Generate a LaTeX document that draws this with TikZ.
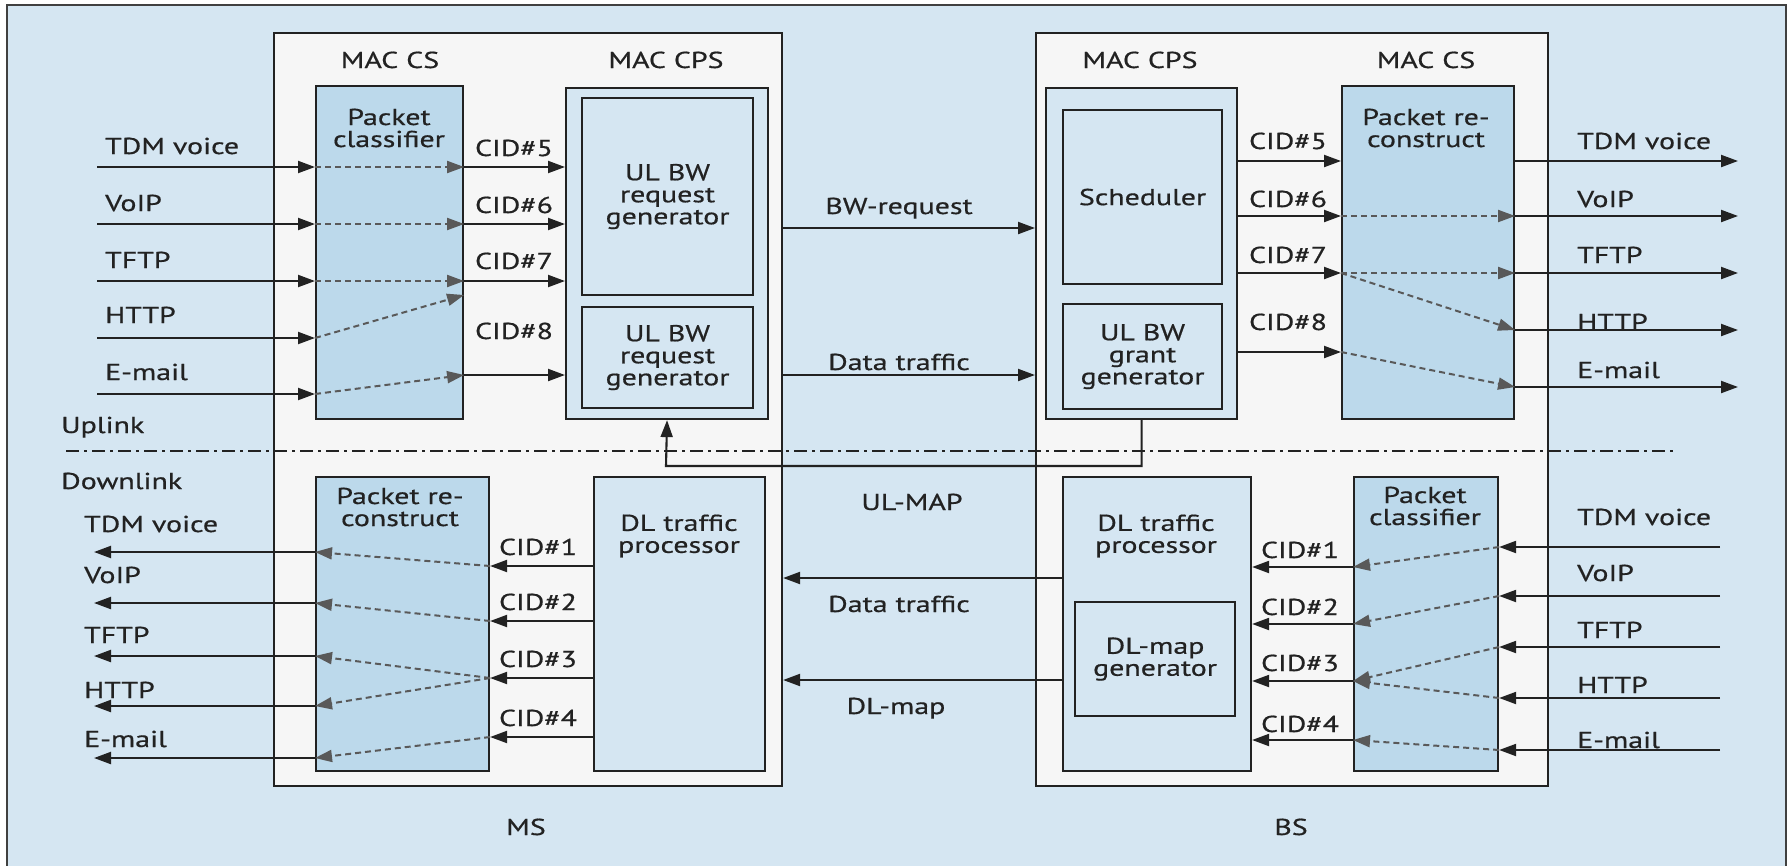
\documentclass[tikz,border=0pt]{standalone}
\usepackage{fontspec}
\setmainfont{PT Sans}[FakeStretch=1.3,FakeBold=0.6]
\usetikzlibrary{arrows.meta}
\definecolor{bgblue}{HTML}{D5E6F2}
\definecolor{boxgray}{HTML}{F6F6F6}
\definecolor{clsblue}{HTML}{BCD9EB}
\definecolor{inkc}{HTML}{222222}
\begin{document}
\begin{tikzpicture}[x=1pt,y=-1pt,
  every node/.style={font=\fontsize{23}{22}\selectfont, inner sep=0pt, text=inkc},
  box/.style={draw=inkc, line width=2.1pt, anchor=north west, inner sep=0pt},
  outerbox/.style={box, fill=boxgray},
  bluebox/.style={box, fill=bgblue},
  clsbox/.style={box, fill=clsblue},
  boxtext/.style={align=center},
  lbl/.style={anchor=base},
  lblw/.style={anchor=base west},
  arr/.style={draw=inkc, line width=2.1pt, -{Triangle[length=17pt,width=12pt]}},
  darr/.style={draw=black!65, line width=2pt, dash pattern=on 6pt off 4pt, -{Triangle[length=17pt,width=12pt]}},
  dashdot/.style={draw=inkc, line width=1.8pt, dash pattern=on 13pt off 5pt on 3pt off 5pt}]
\useasboundingbox (0,0) rectangle (1788,865);
% background frame
\fill[bgblue] (7,5) rectangle (1786,880);
\draw[black!75, line width=2.5pt] (7,880) -- (7,5) -- (1786,5) -- (1786,880);

% MS and BS containers
\node[outerbox, minimum width=508pt, minimum height=753pt] (ms) at (273,32) {};
\node[outerbox, minimum width=512pt, minimum height=753pt] (bs) at (1035,32) {};

% uplink / downlink separator
\coordinate (dd1) at (66,451);
\coordinate (dd2) at (1677,451);
\draw[dashdot] (dd1) -- (dd2);

% ---------- MS uplink ----------
\node[clsbox, minimum width=147pt, minimum height=333pt] (pcU) at (315,85) {};
\node[bluebox, minimum width=202pt, minimum height=331pt] (cpsU) at (565,87) {};
\node[bluebox, minimum width=171pt, minimum height=197pt] (reqA) at (581,97) {};
\node[bluebox, minimum width=171pt, minimum height=101pt] (reqB) at (581,306) {};
\node[boxtext] (pcUt) at (389,128) {Packet\\classifier};
\node[boxtext] (reqAt) at (reqA.center) {UL BW\\request\\generator};
\node[boxtext] (reqBt) at (reqB.center) {UL BW\\request\\generator};
\node[lbl] (macCSm) at (390,68) {MAC CS};
\node[lbl] (macCPSm) at (666,68) {MAC CPS};

\coordinate (mu1) at (97,167);
\coordinate (mu2) at (97,224);
\coordinate (mu3) at (97,281);
\coordinate (mu4) at (97,338);
\coordinate (mu5) at (97,394);
\coordinate (mc4) at (0,295);
\coordinate (mc5) at (0,375);
\foreach \n in {1,...,5} {\draw[arr] (mu\n) -- (pcU.west |- mu\n);}
\foreach \n in {1,2,3} {
  \draw[darr] (pcU.west |- mu\n) -- (pcU.east |- mu\n);
  \draw[arr] (pcU.east |- mu\n) -- (cpsU.west |- mu\n);}
\draw[darr] (pcU.west |- mu4) -- (pcU.east |- mc4);
\draw[darr] (pcU.west |- mu5) -- (pcU.east |- mc5);
\draw[arr] (pcU.east |- mc5) -- (cpsU.west |- mc5);

\node[lblw] (iTDMm) at (105,154) {TDM voice};
\node[lblw] (iVoIPm) at (105,211) {VoIP};
\node[lblw] (iTFTPm) at (105,268) {TFTP};
\node[lblw] (iHTTPm) at (105,323) {HTTP};
\node[lblw] (iMailm) at (105,380) {E-mail};
\node[lbl] (cid5m) at (514,156) {CID\#5};
\node[lbl] (cid6m) at (514,213) {CID\#6};
\node[lbl] (cid7m) at (514,269) {CID\#7};
\node[lbl] (cid8m) at (514,339) {CID\#8};

% ---------- BS uplink ----------
\node[bluebox, minimum width=191pt, minimum height=331pt] (cpsB) at (1045,87) {};
\node[bluebox, minimum width=159pt, minimum height=174pt] (sched) at (1062,109) {};
\node[bluebox, minimum width=159pt, minimum height=105pt] (grant) at (1062,303) {};
\node[clsbox, minimum width=172pt, minimum height=333pt] (prB) at (1341,85) {};
\node[boxtext] (schedt) at (sched.center) {Scheduler};
\node[boxtext] (grantt) at (grant.center) {UL BW\\grant\\generator};
\node[boxtext] (prBt) at (1426,128) {Packet re-\\construct};
\node[lbl] (macCPSb) at (1140,68) {MAC CPS};
\node[lbl] (macCSb) at (1426,68) {MAC CS};

\coordinate (bu1) at (1738,161);
\coordinate (bu2) at (1738,216);
\coordinate (bu3) at (1738,273);
\coordinate (bo4) at (1738,330);
\coordinate (bo5) at (1738,387);
\coordinate (bc4) at (0,352);
\foreach \c in {bu1,bu2,bu3,bc4} {\draw[arr] (cpsB.east |- \c) -- (prB.west |- \c);}
\draw[arr] (prB.east |- bu1) -- (bu1);
\foreach \c in {bu2,bu3} {
  \draw[darr] (prB.west |- \c) -- (prB.east |- \c);
  \draw[arr] (prB.east |- \c) -- (\c);}
\draw[darr] (prB.west |- bu3) -- (prB.east |- bo4);
\draw[arr] (prB.east |- bo4) -- (bo4);
\draw[darr] (prB.west |- bc4) -- (prB.east |- bo5);
\draw[arr] (prB.east |- bo5) -- (bo5);

\node[lbl] (cid5b) at (1288,149) {CID\#5};
\node[lbl] (cid6b) at (1288,207) {CID\#6};
\node[lbl] (cid7b) at (1288,263) {CID\#7};
\node[lbl] (cid8b) at (1288,330) {CID\#8};
\node[lblw] (oTDMb) at (1577,149) {TDM voice};
\node[lblw] (oVoIPb) at (1577,207) {VoIP};
\node[lblw] (oTFTPb) at (1577,263) {TFTP};
\node[lblw] (oHTTPb) at (1577,330) {HTTP};
\node[lblw] (oMailb) at (1577,378) {E-mail};

% ---------- air interface ----------
\coordinate (bwr) at (0,228);
\coordinate (dtu) at (0,375);
\coordinate (dtd) at (0,578);
\coordinate (dlm) at (0,680);
\coordinate (ulm) at (666,466);
\draw[arr] (ms.east |- bwr) -- (bs.west |- bwr);
\draw[arr] (ms.east |- dtu) -- (bs.west |- dtu);
\draw[arr] (cpsB.south) |- (ulm) -- (cpsU.south);
\node[lbl] (bwrt) at (899,214) {BW-request};
\node[lbl] (dtut) at (899,370) {Data traffic};
\node[lbl] (ulmt) at (912,510) {UL-MAP};
\node[lbl] (dtdt) at (899,612) {Data traffic};
\node[lbl] (dlmt) at (896,714) {DL-map};
\node[lblw] (uplk) at (61,433) {Uplink};
\node[lblw] (dnlk) at (61,489) {Downlink};
\node[lbl] (mst) at (526,835) {MS};
\node[lbl] (bst) at (1291,835) {BS};

% ---------- MS downlink ----------
\node[clsbox, minimum width=173pt, minimum height=294pt] (prM) at (315,476) {};
\node[bluebox, minimum width=171pt, minimum height=294pt] (dlpM) at (593,476) {};
\node[boxtext] (prMt) at (400,507) {Packet re-\\construct};
\node[boxtext] (dlpMt) at (679,536) {DL traffic\\processor};

\coordinate (md1) at (0,566);
\coordinate (md2) at (0,621);
\coordinate (md3) at (0,678);
\coordinate (md4) at (0,737);
\coordinate (mo1) at (94,552);
\coordinate (mo2) at (94,603);
\coordinate (mo3) at (94,656);
\coordinate (mo4) at (94,706);
\coordinate (mo5) at (94,758);
\foreach \n in {1,...,4} {\draw[arr] (dlpM.west |- md\n) -- (prM.east |- md\n);}
\draw[darr] (prM.east |- md1) -- (prM.west |- mo1);
\draw[darr] (prM.east |- md2) -- (prM.west |- mo2);
\draw[darr] (prM.east |- md3) -- (prM.west |- mo3);
\draw[darr] (prM.east |- md3) -- (prM.west |- mo4);
\draw[darr] (prM.east |- md4) -- (prM.west |- mo5);
\foreach \n in {1,...,5} {\draw[arr] (prM.west |- mo\n) -- (mo\n);}
\node[lbl] (cid1m) at (538,555) {CID\#1};
\node[lbl] (cid2m) at (538,610) {CID\#2};
\node[lbl] (cid3m) at (538,667) {CID\#3};
\node[lbl] (cid4m) at (538,726) {CID\#4};
\node[lblw] (oTDMm) at (84,532) {TDM voice};
\node[lblw] (oVoIPm) at (84,583) {VoIP};
\node[lblw] (oTFTPm) at (84,643) {TFTP};
\node[lblw] (oHTTPm) at (84,698) {HTTP};
\node[lblw] (oMailm) at (84,747) {E-mail};

% ---------- BS downlink ----------
\node[bluebox, minimum width=188pt, minimum height=294pt] (dlpB) at (1062,476) {};
\node[bluebox, minimum width=160pt, minimum height=114pt] (dlmg) at (1074,601) {};
\node[clsbox, minimum width=144pt, minimum height=294pt] (pcB) at (1353,476) {};
\node[boxtext] (dlpBt) at (1156,536) {DL traffic\\processor};
\node[boxtext] (dlmgt) at (dlmg.center) {DL-map\\generator};
\node[boxtext] (pcBt) at (1425,506) {Packet\\classifier};
\draw[arr] (dlpB.west |- dtd) -- (ms.east |- dtd);
\draw[arr] (dlpB.west |- dlm) -- (ms.east |- dlm);

\coordinate (bi1) at (1720,547);
\coordinate (bi2) at (1720,596);
\coordinate (bi3) at (1720,647);
\coordinate (bi4) at (1720,698);
\coordinate (bi5) at (1720,750);
\coordinate (bd1) at (0,567);
\coordinate (bd2) at (0,624);
\coordinate (bd3) at (0,681);
\coordinate (bd4) at (0,740);
\foreach \n in {1,...,5} {\draw[arr] (bi\n) -- (pcB.east |- bi\n);}
\draw[darr] (pcB.east |- bi1) -- (pcB.west |- bd1);
\draw[darr] (pcB.east |- bi2) -- (pcB.west |- bd2);
\draw[darr] (pcB.east |- bi3) -- (pcB.west |- bd3);
\draw[darr] (pcB.east |- bi4) -- (pcB.west |- bd3);
\draw[darr] (pcB.east |- bi5) -- (pcB.west |- bd4);
\foreach \n in {1,...,4} {\draw[arr] (pcB.west |- bd\n) -- (dlpB.east |- bd\n);}
\node[lbl] (cid1b) at (1300,558) {CID\#1};
\node[lbl] (cid2b) at (1300,615) {CID\#2};
\node[lbl] (cid3b) at (1300,671) {CID\#3};
\node[lbl] (cid4b) at (1300,732) {CID\#4};
\node[lblw] (iTDMb) at (1577,525) {TDM voice};
\node[lblw] (iVoIPb) at (1577,581) {VoIP};
\node[lblw] (iTFTPb) at (1577,638) {TFTP};
\node[lblw] (iHTTPb) at (1577,693) {HTTP};
\node[lblw] (iMailb) at (1577,748) {E-mail};
\end{tikzpicture}
\end{document}
